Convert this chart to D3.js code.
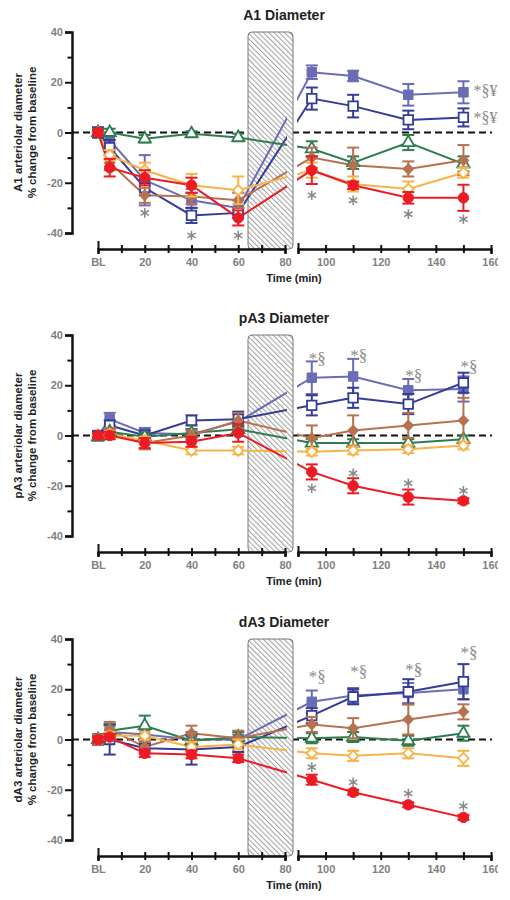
<!DOCTYPE html>
<html><head><meta charset="utf-8">
<script src="https://cdn.jsdelivr.net/npm/d3@7"></script>
<style>body{margin:0;background:#fff}svg{display:block}</style>
</head><body><div id="chart"></div>
<script>
// ---------- DATA ----------
const times = [0, 5, 20, 40, 60, 95, 110, 130, 150];
const panelTitles = ["A1 Diameter", "pA3 Diameter", "dA3 Diameter"];
const yLabels = ["A1 arteriolar diameter", "pA3 arteriolar diameter", "dA3 arteriolar diameter"];
const yLabel2 = "% change from baseline";
const xTitle = "Time (min)";
const yTickValues = [-40, -30, -20, -10, 0, 10, 20, 30, 40];
const leftTickValues = [0, 10, 20, 30, 40, 50, 60, 70, 80];
const rightTickValues = [90, 100, 110, 120, 130, 140, 150, 160];
const baselineLabel = "BL";

// A1
const a1FilledSq    = [0, -3, -19, -27, -30, 24, 22.5, 15, 16];
const a1FilledSqErr = [2, 3, 10, 3, 3, 2.7, 2.1, 4.3, 4.4];
const a1OpenSq      = [0, -6, -22, -33, -32, 13.5, 10.5, 5, 6];
const a1OpenSqErr   = [2, 3, 3, 3, 2, 4.4, 4.5, 3.7, 3.6];
const a1Green       = [0, 0, -2.5, -0.5, -2, -6.5, -12, -4, -12.5];
const a1GreenErr    = [1.5, 1.5, 1.5, 1, 1.5, 3, 2.5, 3, 3];
const a1Brown       = [0, -12, -25, -25.5, -27, -10, -13, -14.5, -11];
const a1BrownErr    = [1, 3, 3, 3, 3, 4, 7, 3, 6];
const a1Orange      = [0, -9, -15, -21, -23, -15, -20.5, -22.5, -16];
const a1OrangeErr   = [1, 2, 3, 4.5, 5.5, 3, 3, 3, 2];
const a1Red         = [0, -14, -18, -21, -34, -15, -21, -26, -26];
const a1RedErr      = [1, 3.5, 3, 3, 3, 5.5, 1.5, 2.3, 5.2];
const a1Stars = [[20, -32], [40, -41], [60, -41], [95, -25], [110, -27], [130, -32.5], [150, -34.5]];
const a1Marks = [[150, 14.4, "*§¥"], [150, 3.6, "*§¥"]];

// pA3
const pa3FilledSq    = [0, 6.5, 1, 0.5, 5.5, 23, 23.5, 18, 18.5];
const pa3FilledSqErr = [1.5, 2.5, 2, 2, 3, 6.5, 7, 4.5, 5];
const pa3OpenSq      = [0, 4, 0, 6, 6.5, 12, 15, 12.5, 21];
const pa3OpenSqErr   = [1.5, 2, 2, 2, 3, 4, 4, 4, 4];
const pa3Green       = [-0.5, 1.5, -0.5, 1, 2.5, -3, -3, -3, -1.5];
const pa3GreenErr    = [1.5, 1.5, 1.5, 1.5, 1.5, 1.5, 1.5, 1.5, 1.5];
const pa3Brown       = [0, 1, -3, 0, 6, -1, 2, 4, 6];
const pa3BrownErr    = [1, 2, 2.5, 2, 3, 5, 6, 5, 9];
const pa3Orange      = [0, 0.5, -2, -6, -6, -6.5, -6, -5.5, -4];
const pa3OrangeErr   = [1, 1.5, 1.5, 1.5, 1.5, 1.5, 1.5, 1.5, 1.5];
const pa3Red         = [0, 0, -3, -2.5, 1, -14.5, -20, -24.5, -26];
const pa3RedErr      = [1, 1.5, 2, 2, 3.5, 3, 3, 3, 1];
const pa3Stars = [[95, -21], [110, -15], [130, -19], [150, -22]];
const pa3Marks = [[95, 28.6, "*§"], [110, 29.8, "*§"], [130, 21.8, "*§"], [150, 25.4, "*§"]];

// dA3
const da3FilledSq    = [0, 3, 2, 0, 0, 15, 17.5, 18.5, 20];
const da3FilledSqErr = [2, 3, 2, 3, 2, 4.5, 3, 4, 4];
const da3OpenSq      = [0, 0, -3.5, -4, -3, 9.5, 17, 19, 23];
const da3OpenSqErr   = [2, 6, 2, 6, 2, 3, 3, 5, 7];
const da3Green       = [0, 3.5, 5.5, -0.5, 1, 0.5, 1, -0.5, 2.5];
const da3GreenErr    = [2, 2, 4, 2, 2, 2, 2, 2, 3];
const da3Brown       = [0, 4, -3, 2.5, 0.5, 6, 4.5, 8, 11];
const da3BrownErr    = [2, 3, 2, 3, 3, 3, 4, 6, 3];
const da3Orange      = [0, 1.5, 1.5, -3, -2, -5.5, -6.5, -5.5, -7.5];
const da3OrangeErr   = [1, 1.5, 1.5, 2, 2, 2, 2, 2, 3];
const da3Red         = [0, 1, -5.5, -6, -7.5, -16, -21, -26, -31];
const da3RedErr      = [1, 1, 1.5, 1.5, 1.5, 2, 1, 1, 1];
const da3Stars = [[95, -11], [110, -17], [130, -21.5], [150, -26.5]];
const da3Marks = [[95, 23, "*§"], [110, 25, "*§"], [130, 25.8, "*§"], [150, 32.5, "*§"]];

// ---------- STYLE ----------
const seriesStyle = [
  {key: "filledSq", color: "#6a6cb5", shape: "square", filled: true},
  {key: "openSq",   color: "#353c97", shape: "square", filled: false},
  {key: "green",    color: "#2e7d4f", shape: "triangle", filled: false},
  {key: "brown",    color: "#b8714f", shape: "diamond", filled: true},
  {key: "orange",   color: "#f7b348", shape: "diamond", filled: false},
  {key: "red",      color: "#ec1c24", shape: "circle", filled: true}
];

const panels = [
  {title: panelTitles[0], ylab: yLabels[0], stars: a1Stars, marks: a1Marks, markDx: 10, markSize: 16,
   series: {filledSq: [a1FilledSq, a1FilledSqErr], openSq: [a1OpenSq, a1OpenSqErr], green: [a1Green, a1GreenErr],
            brown: [a1Brown, a1BrownErr], orange: [a1Orange, a1OrangeErr], red: [a1Red, a1RedErr]}},
  {title: panelTitles[1], ylab: yLabels[1], stars: pa3Stars, marks: pa3Marks, markDx: -3, markSize: 17,
   series: {filledSq: [pa3FilledSq, pa3FilledSqErr], openSq: [pa3OpenSq, pa3OpenSqErr], green: [pa3Green, pa3GreenErr],
            brown: [pa3Brown, pa3BrownErr], orange: [pa3Orange, pa3OrangeErr], red: [pa3Red, pa3RedErr]}},
  {title: panelTitles[2], ylab: yLabels[2], stars: da3Stars, marks: da3Marks, markDx: -3, markSize: 17,
   series: {filledSq: [da3FilledSq, da3FilledSqErr], openSq: [da3OpenSq, da3OpenSqErr], green: [da3Green, da3GreenErr],
            brown: [da3Brown, da3BrownErr], orange: [da3Orange, da3OrangeErr], red: [da3Red, da3RedErr]}}
];

const W = 510, H = 900;
const FONT = "'Liberation Sans', Arial, Helvetica, sans-serif";
const panelTops = [32, 335, 639];
const plotH = 201;
const axisX = 72;

const xL = d3.scaleLinear().domain([0, 80]).range([98, 285]);
const xR = d3.scaleLinear().domain([90, 160]).range([298, 491]);
const xOf = t => t <= 80 ? xL(t) : xR(t);

const svg = d3.select("#chart").append("svg").attr("width", W).attr("height", H)
  .style("font-family", FONT);
svg.append("rect").attr("width", W).attr("height", H).attr("fill", "#fff");

const defs = svg.append("defs");
const HS = 3.7;
const pat = defs.append("pattern").attr("id", "hatch").attr("patternUnits", "userSpaceOnUse")
  .attr("width", HS).attr("height", HS).attr("patternTransform", "rotate(-45)");
pat.append("rect").attr("width", HS).attr("height", HS).attr("fill", "#fff");
pat.append("line").attr("x1", 0.5).attr("y1", 0).attr("x2", 0.5).attr("y2", HS)
  .attr("stroke", "#a0a0a0").attr("stroke-width", 1);

function shapePath(shape) {
  if (shape === "square") return d3.symbol(d3.symbolSquare, 90)();
  if (shape === "circle") return d3.symbol(d3.symbolCircle, 85)();
  if (shape === "triangle") return d3.symbol(d3.symbolTriangle, 64)();
  if (shape === "diamond") return d3.symbol(d3.symbolSquare, 56)();
}

panels.forEach((p, i) => {
  const T = panelTops[i];
  const y = d3.scaleLinear().domain([-40, 40]).range([T + plotH, T]);
  const axisY = T + 217;
  const g = svg.append("g");

  const cp = defs.append("clipPath").attr("id", "clip" + i);
  cp.append("rect").attr("x", axisX).attr("y", T - 20).attr("width", 287 - axisX).attr("height", 260);
  cp.append("rect").attr("x", 297).attr("y", T - 20).attr("width", 220).attr("height", 260);

  g.append("text").attr("x", 284).attr("y", T - 12).attr("text-anchor", "middle")
    .attr("font-size", 14).attr("font-weight", "bold").attr("fill", "#222").text(p.title);

  g.append("text").attr("transform", `translate(22,${T + plotH / 2}) rotate(-90)`)
    .attr("text-anchor", "middle").attr("font-size", 11.5).attr("font-weight", "bold").attr("fill", "#222").text(p.ylab);
  g.append("text").attr("transform", `translate(36,${T + plotH / 2}) rotate(-90)`)
    .attr("text-anchor", "middle").attr("font-size", 11.5).attr("font-weight", "bold").attr("fill", "#222").text(yLabel2);

  g.append("line").attr("x1", axisX).attr("x2", 492).attr("y1", y(0)).attr("y2", y(0))
    .attr("stroke", "#111").attr("stroke-width", 2).attr("stroke-dasharray", "7,4");

  g.append("rect").attr("x", 248).attr("y", T).attr("width", 45).attr("height", axisY - T)
    .attr("rx", 4).attr("fill", "url(#hatch)").attr("stroke", "#777").attr("stroke-width", 1);

  const lineGen = d3.line().x(d => xOf(d.t)).y(d => y(d.v));
  const lg = g.append("g").attr("clip-path", `url(#clip${i})`);
  seriesStyle.forEach(s => {
    const [vals] = p.series[s.key];
    const pts = times.map((t, k) => ({t, v: vals[k]}));
    lg.append("path").datum(pts).attr("d", lineGen).attr("fill", "none")
      .attr("stroke", s.color).attr("stroke-width", 2);
  });

  seriesStyle.forEach(s => {
    const [vals, errs] = p.series[s.key];
    const pts = times.map((t, k) => ({t, v: vals[k], e: errs[k]}));
    const eg = g.append("g").attr("stroke", s.color).attr("stroke-width", 2).attr("fill", "none");
    pts.forEach(d => {
      const cx = xOf(d.t);
      eg.append("line").attr("x1", cx).attr("x2", cx).attr("y1", y(d.v + d.e)).attr("y2", y(d.v - d.e));
      eg.append("line").attr("x1", cx - 6).attr("x2", cx + 6).attr("y1", y(d.v + d.e)).attr("y2", y(d.v + d.e));
      eg.append("line").attr("x1", cx - 6).attr("x2", cx + 6).attr("y1", y(d.v - d.e)).attr("y2", y(d.v - d.e));
    });
    g.append("g").selectAll("path").data(pts).join("path")
      .attr("d", shapePath(s.shape))
      .attr("transform", d => `translate(${xOf(d.t)},${y(d.v)})` + (s.shape === "diamond" ? " rotate(45)" : ""))
      .attr("fill", s.filled ? s.color : "#fff")
      .attr("stroke", s.color).attr("stroke-width", s.filled ? 1 : 1.8);
  });

  g.append("g").selectAll("path").data(p.stars).join("path")
    .attr("d", d3.symbol(d3.symbolAsterisk, 64)())
    .attr("transform", d => `translate(${xOf(d[0])},${y(d[1])})`)
    .attr("stroke", "#888").attr("stroke-width", 1.5).attr("fill", "none");

  g.append("g").selectAll("text").data(p.marks).join("text")
    .attr("x", d => xOf(d[0]) + p.markDx).attr("y", d => y(d[1]))
    .attr("font-family", "'Liberation Serif', 'Times New Roman', serif")
    .attr("font-size", p.markSize).attr("fill", "#888").text(d => d[2]);

  const ya = g.append("g").attr("transform", `translate(${axisX},0)`)
    .call(d3.axisLeft(y).tickValues(yTickValues).tickSizeOuter(0).tickSize(7)
      .tickFormat(d => d % 20 === 0 ? d : ""));
  ya.select(".domain").attr("stroke", "#111").attr("stroke-width", 2.5);
  ya.selectAll(".tick line").attr("stroke", "#111").attr("stroke-width", 2)
    .attr("x2", d => d % 20 === 0 ? -7 : -4.5);
  ya.selectAll(".tick text").attr("font-size", 11).attr("font-weight", "bold").attr("fill", "#808080")
    .attr("font-family", FONT).attr("x", -9);

  const xa1 = g.append("g").attr("transform", `translate(0,${axisY})`)
    .call(d3.axisBottom(xL).tickValues(leftTickValues).tickSizeOuter(0).tickSize(5)
      .tickFormat(d => d === 0 ? baselineLabel : (d % 20 === 0 ? d : "")));
  const xa2 = g.append("g").attr("transform", `translate(0,${axisY})`)
    .call(d3.axisBottom(xR).tickValues(rightTickValues).tickSizeOuter(0).tickSize(5)
      .tickFormat(d => d % 20 === 0 ? d : ""));
  [xa1, xa2].forEach(a => {
    a.select(".domain").attr("stroke", "#111").attr("stroke-width", 2.5);
    a.selectAll(".tick line").attr("stroke", "#111").attr("stroke-width", 2).attr("y1", -4).attr("y2", 4);
    a.selectAll(".tick text").attr("font-size", 11).attr("font-weight", "bold").attr("fill", "#808080")
      .attr("font-family", FONT).attr("y", 9);
  });
  xa1.selectAll(".tick").filter(d => d === 0).select("line").attr("y1", -8);
  xa2.selectAll(".tick").filter(d => d === 90).select("line").attr("y1", -6);

  g.append("text").attr("x", 294).attr("y", axisY + 33).attr("text-anchor", "middle")
    .attr("font-size", 11).attr("font-weight", "bold").attr("fill", "#222").text(xTitle);
});

svg.append("rect").attr("x", 498).attr("y", 0).attr("width", 12).attr("height", H).attr("fill", "#fff");
</script>
</body></html>
